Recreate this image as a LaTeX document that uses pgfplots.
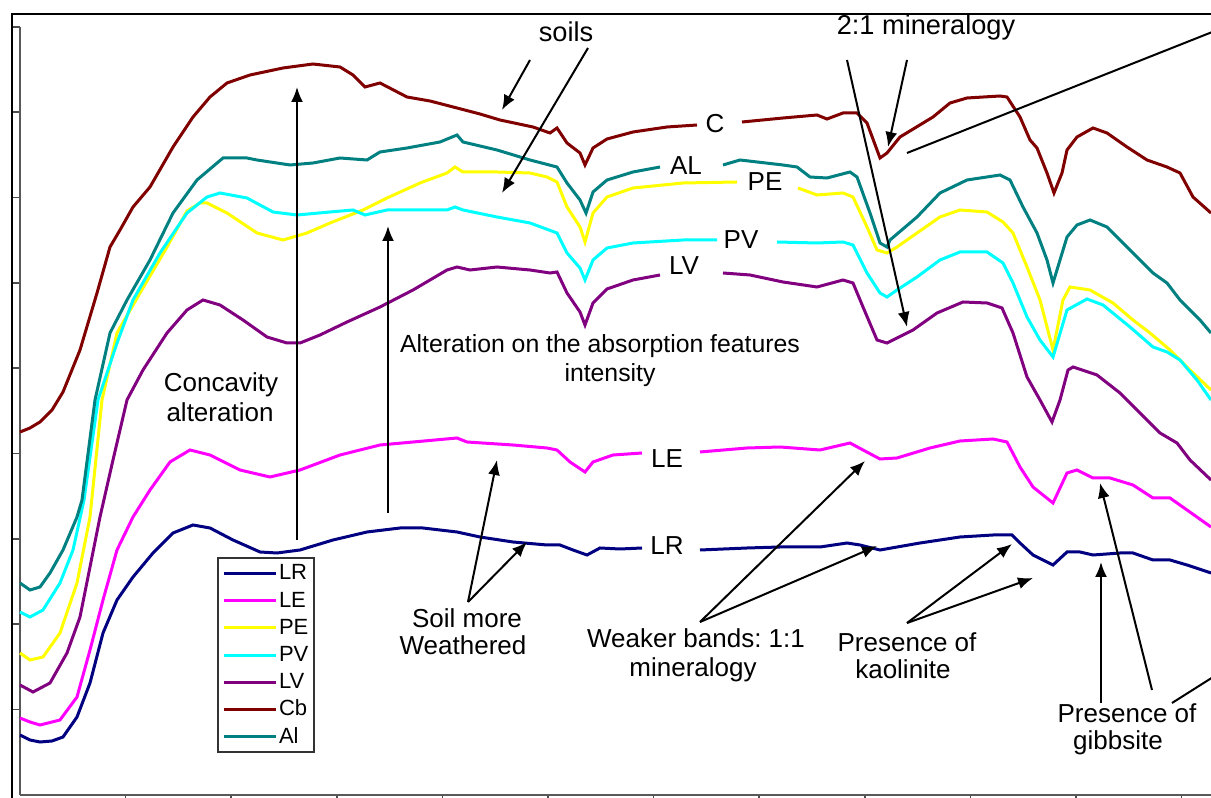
\documentclass[border=0pt]{standalone}
\usepackage{pgfplots}
\pgfplotsset{compat=1.18}
\usepackage{fontspec}
\setmainfont{Liberation Sans}
\usetikzlibrary{arrows.meta}
\definecolor{cLR}{RGB}{0,0,128}
\definecolor{cLE}{RGB}{255,0,255}
\definecolor{cPE}{RGB}{255,255,0}
\definecolor{cPV}{RGB}{0,255,255}
\definecolor{cLV}{RGB}{128,0,128}
\definecolor{cCb}{RGB}{128,0,0}
\definecolor{cAl}{RGB}{0,128,128}
\newcommand\lab{\fontsize{13}{15}\selectfont}
\newcommand\labb{\fontsize{13.6}{15}\selectfont}
\newcommand\labs{\fontsize{12.4}{14}\selectfont}
\tikzset{arr/.style={-{Latex[length=7.5pt,width=6pt]}, line width=1pt, black}}
\frenchspacing
\begin{document}
\begin{tikzpicture}
\begin{axis}[
  scale only axis, width=595.5pt, height=384pt,
  xmin=20, xmax=1211, ymin=3, ymax=771,
  axis x line*=bottom, axis y line*=left,
  axis line style={draw=black!65, line width=1pt},
  xtick={125.6,231.2,336.8,442.4,548,653.6,759.2,864.8,970.4,1076,1181.6},
  ytick={88.3,173.7,259,344.3,429.7,515,600.3,685.7,771},
  xticklabels={}, yticklabels={},
  xtick pos=bottom, ytick pos=left,
  tick align=outside, major tick length=3.5pt,
  every tick/.style={black!70, line width=0.8pt},
  clip=false, unbounded coords=jump,
  legend image code/.code={\draw[#1] (0pt,0pt) -- (26pt,0pt);},
  legend cell align=left,
  legend style={at={(axis cs:217,241)}, anchor=north west, draw=black!80, line width=1pt,
    fill=white, font=\fontsize{11}{12}\selectfont, inner xsep=2pt, inner ysep=2pt,
    row sep=2pt, nodes={inner sep=1pt, text height=8pt, text depth=1.6pt}},
]
% LR
\addplot[cLR, line width=1.5pt] coordinates {
(20,63)(30,58)(40,56)(52,57)(63,61)(77,81)(90,115)(103,165)(117,198)(133,221)(153,245)(173,265)(193,273)(210,270)(233,258)(260,246)(277,245)(300,248)(333,258)(367,266)(400,270)(423,270)(457,266)(480,261)(513,256)(547,253)(560,253)(573,248)(587,243)(600,250)(620,249)(642,250)
(670,nan)
(700,248)(747,250)(780,251)(820,251)(847,255)(860,253)(880,248)(920,255)(960,261)(993,263)(1012,263)(1020,255)(1033,243)(1053,233)(1067,246)(1080,246)(1093,243)(1120,245)(1133,245)(1153,238)(1170,238)(1187,233)(1211,225)};
\addlegendentry{LR}
% LE
\addplot[cLE, line width=1.5pt] coordinates {
(20,80)(30,76)(40,73)(60,78)(77,101)(90,148)(103,198)(117,248)(133,281)(150,308)(170,336)(190,348)(210,343)(240,328)(270,321)(300,328)(340,343)(380,353)(413,356)(457,360)(467,356)(513,353)(547,350)(557,348)(570,336)(585,326)(593,336)(613,343)(642,345)
(670,nan)
(700,346)(747,350)(780,351)(820,348)(850,355)(863,348)(880,339)(897,340)(930,350)(960,357)(993,359)(1007,356)(1020,331)(1033,311)(1053,295)(1067,325)(1077,328)(1093,320)(1110,320)(1133,313)(1153,300)(1170,300)(1187,288)(1211,271)};
\addlegendentry{LE}
% PE
\addplot[cPE, line width=1.5pt] coordinates {
(20,145)(30,138)(43,141)(60,165)(77,215)(90,281)(102,398)(117,465)(140,505)(167,551)(187,587)(200,595)(207,595)(227,585)(257,565)(283,558)(307,565)(330,575)(363,588)(387,600)(420,615)(447,625)(455,631)(463,626)(497,626)(530,625)(547,621)(557,616)(567,591)(580,571)(585,556)(593,585)(607,601)(633,610)(683,615)(737,616)
(767,nan)
(798,610)(817,603)(843,605)(853,601)(867,571)(877,548)(887,545)(897,551)(917,565)(940,581)(960,588)(987,586)(1003,576)(1013,565)(1027,531)(1040,498)(1053,448)(1063,498)(1070,511)(1090,508)(1113,495)(1133,478)(1150,465)(1170,448)(1190,428)(1211,408)};
\addlegendentry{PE}
% PV
\addplot[cPV, line width=1.5pt] coordinates {
(20,186)(30,181)(43,188)(60,215)(73,248)(84,298)(98,398)(117,455)(133,498)(160,545)(187,585)(207,601)(220,605)(247,600)(273,586)(297,583)(330,586)(353,588)(365,583)(387,588)(420,588)(447,588)(455,591)(463,588)(497,581)(530,575)(557,565)(567,545)(580,530)(585,518)(593,538)(607,550)(633,555)(683,558)(717,558)
(745,nan)
(777,556)(817,555)(843,556)(853,553)(867,525)(880,505)(887,501)(897,508)(917,521)(940,538)(960,546)(987,546)(1003,535)(1013,515)(1027,481)(1040,458)(1053,441)(1067,488)(1087,499)(1103,493)(1130,471)(1153,451)(1167,446)(1180,438)(1197,418)(1211,398)};
\addlegendentry{PV}
% LV
\addplot[cLV, line width=1.5pt] coordinates {
(20,113)(33,106)(50,115)(67,145)(80,181)(90,231)(100,281)(113,338)(127,398)(143,428)(167,465)(187,488)(203,498)(220,493)(243,478)(267,461)(287,455)(300,455)(320,463)(347,476)(380,491)(413,508)(447,528)(457,531)(470,528)(497,531)(530,528)(550,525)(557,526)(567,505)(580,486)(585,473)(593,495)(607,509)(633,518)(660,523)
(690,nan)
(723,525)(750,523)(783,516)(817,511)(843,518)(853,515)(863,491)(877,458)(887,455)(913,468)(937,485)(963,496)(987,495)(1002,490)(1013,465)(1027,421)(1040,398)(1052,376)(1060,398)(1068,428)(1073,431)(1097,423)(1120,405)(1140,385)(1160,365)(1177,355)(1190,338)(1211,318)};
\addlegendentry{LV}
% Cb
\addplot[cCb, line width=1.5pt] coordinates {
(20,366)(30,370)(40,376)(52,388)(63,406)(80,448)(97,505)(110,551)(120,568)(133,591)(150,611)(173,651)(193,681)(210,701)(227,715)(250,723)(283,730)(313,734)(340,731)(353,723)(365,711)(380,715)(407,701)(430,697)(457,690)(480,684)(500,678)(533,671)(550,665)(557,670)(567,655)(580,645)(585,633)(593,650)(607,659)(633,666)(667,671)(697,673)
(715,nan)
(742,676)(783,680)(817,683)(827,679)(843,685)(857,685)(867,675)(880,640)(887,645)(900,661)(933,681)(950,695)(967,700)(1000,702)(1007,701)(1020,681)(1030,658)(1037,650)(1047,625)(1054,605)(1062,625)(1067,648)(1077,661)(1093,670)(1107,665)(1127,651)(1147,638)(1167,631)(1180,625)(1193,601)(1211,585)};
\addlegendentry{Cb}
% Al
\addplot[cAl, line width=1.5pt] coordinates {
(20,215)(30,208)(40,211)(50,225)(63,248)(77,281)(82,298)(95,398)(110,465)(127,498)(150,538)(173,585)(197,618)(223,640)(247,640)(257,638)(290,633)(313,635)(340,640)(367,638)(380,646)(407,650)(440,656)(457,663)(463,656)(497,648)(530,638)(557,631)(567,615)(580,598)(586,585)(593,606)(607,618)(633,626)(660,631)
(690,nan)
(723,633)(740,638)(783,633)(797,631)(810,621)(827,620)(850,626)(857,621)(870,585)(880,555)(887,551)(890,558)(917,581)(940,605)(967,618)(1000,623)(1010,618)(1023,591)(1037,565)(1047,538)(1053,515)(1060,538)(1067,561)(1077,573)(1090,578)(1107,571)(1130,548)(1153,525)(1167,515)(1180,498)(1200,478)(1211,465)};
\addlegendentry{Al}
% frame
\draw[line width=1pt, black] (axis cs:12,0) -- (axis cs:12,784) -- (axis cs:1230,784);
% curve labels
\node[font=\lab] at (axis cs:715,674) {C};
\node[font=\lab] at (axis cs:686,632) {AL};
\node[font=\lab] at (axis cs:765,616) {PE};
\node[font=\lab] at (axis cs:741,558) {PV};
\node[font=\lab] at (axis cs:684,532) {LV};
\node[font=\lab] at (axis cs:667,339) {LE};
\node[font=\lab] at (axis cs:667,252) {LR};
% annotation texts
\node[font=\labb, anchor=base] at (axis cs:566,756) {soils};
\node[font=\labb, anchor=base] at (axis cs:926,763) {2:1 mineralogy};
\node[font=\lab, anchor=base] at (axis cs:221,406) {Concavity};
\node[font=\lab, anchor=base] at (axis cs:220,376) {alteration};
\node[font=\labs, anchor=base] at (axis cs:600,445) {Alteration on the absorption features};
\node[font=\labs, anchor=base] at (axis cs:610,416) {intensity};
\node[font=\lab, anchor=base] at (axis cs:467,170) {Soil more};
\node[font=\lab, anchor=base] at (axis cs:463,143) {Weathered};
\node[font=\lab, anchor=base] at (axis cs:696,150) {Weaker bands: 1:1};
\node[font=\lab, anchor=base] at (axis cs:693,121) {mineralogy};
\node[font=\lab, anchor=base] at (axis cs:907,146) {Presence of};
\node[font=\lab, anchor=base] at (axis cs:903,119) {kaolinite};
\node[font=\lab, anchor=base] at (axis cs:1127,75) {Presence of};
\node[font=\lab, anchor=base] at (axis cs:1118,48) {gibbsite};
% arrows
\draw[arr] (axis cs:530,738) -- (axis cs:502,688);
\draw[arr] (axis cs:588,750) -- (axis cs:502,605);
\draw[arr] (axis cs:907,738) -- (axis cs:888,651);
\draw[arr] (axis cs:847,738) -- (axis cs:907,471);
\draw[line width=1pt] (axis cs:907,645) -- (axis cs:1240,777);
\draw[arr] (axis cs:297,258) -- (axis cs:297,711);
\draw[arr] (axis cs:388,285) -- (axis cs:388,572);
\draw[arr] (axis cs:468,196) -- (axis cs:497,338);
\draw[arr] (axis cs:468,196) -- (axis cs:527,256);
\draw[arr] (axis cs:700,176) -- (axis cs:865,337);
\draw[arr] (axis cs:700,176) -- (axis cs:877,252);
\draw[arr] (axis cs:907,175) -- (axis cs:1012,254);
\draw[arr] (axis cs:907,175) -- (axis cs:1033,220);
\draw[arr] (axis cs:1101,95) -- (axis cs:1101,236);
\draw[arr] (axis cs:1152,108) -- (axis cs:1100,315);
\draw[line width=1pt] (axis cs:1172,95) -- (axis cs:1240,138);
\coordinate (BL) at (axis cs:0,0);
\coordinate (TR) at (axis cs:1211,798);
\end{axis}
\pgfresetboundingbox
\useasboundingbox (BL) rectangle (TR);
\end{tikzpicture}
\end{document}
